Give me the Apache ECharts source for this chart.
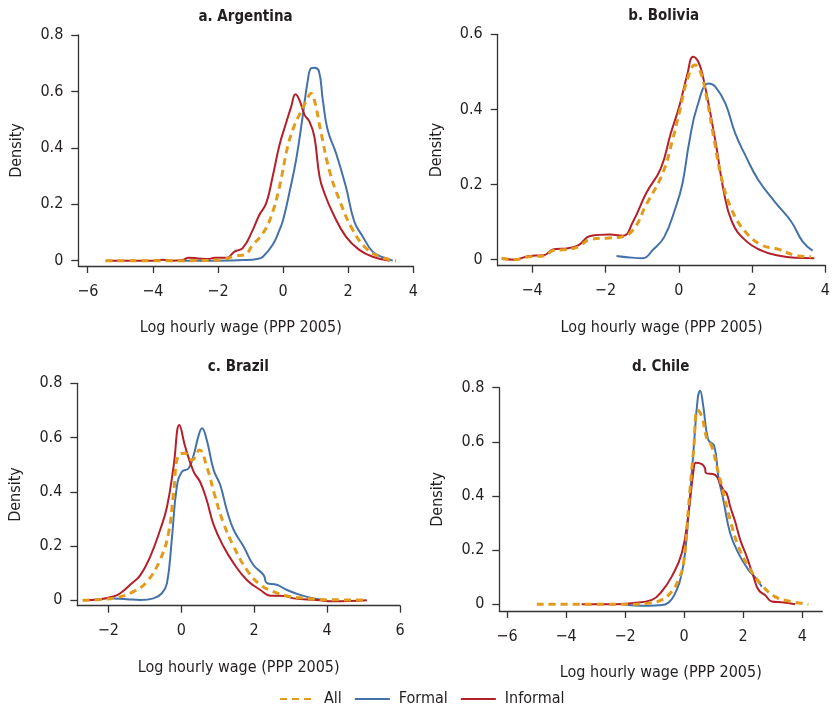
<!DOCTYPE html>
<html>
<head>
<meta charset="utf-8">
<script src="https://cdn.jsdelivr.net/npm/echarts@6/dist/echarts.min.js"></script>
<style>
html,body{margin:0;padding:0;background:#fff;}
#chart{width:833px;height:707px;}
</style>
</head>
<body>
<div id="chart"></div>
<script>
// ---- Data (x = log hourly wage, y = density) ----
const panelTitles = ['a. Argentina', 'b. Bolivia', 'c. Brazil', 'd. Chile'];
const seriesNames = ['All', 'Formal', 'Informal'];
const xTicksA = [-6, -4, -2, 0, 2, 4];
const xTicksB = [-4, -2, 0, 2, 4];
const xTicksC = [-2, 0, 2, 4, 6];
const xTicksD = [-6, -4, -2, 0, 2, 4];
const yTicksA = [0, 0.2, 0.4, 0.6, 0.8];
const yTicksB = [0, 0.2, 0.4, 0.6];
const yTicksC = [0, 0.2, 0.4, 0.6, 0.8];
const yTicksD = [0, 0.2, 0.4, 0.6, 0.8];

const argentinaAll = [[-5.45,0],[-3,0],[-2,0.002],[-1.7,0.008],[-1.5,0.017],[-1.2,0.02],[-0.93,0.056],[-0.62,0.097],[-0.37,0.156],[-0.11,0.262],[0.14,0.404],[0.35,0.48],[0.5,0.517],[0.71,0.565],[0.86,0.593],[0.96,0.57],[1.17,0.452],[1.42,0.321],[1.73,0.215],[2.14,0.109],[2.55,0.044],[2.96,0.014],[3.47,0]];
const argentinaFormal = [[-3.13,0],[-2,0],[-1.2,0.002],[-0.8,0.006],[-0.62,0.014],[-0.32,0.056],[-0.11,0.109],[0,0.144],[0.19,0.239],[0.4,0.357],[0.6,0.51],[0.76,0.64],[0.86,0.682],[0.96,0.684],[1.1,0.672],[1.22,0.57],[1.37,0.463],[1.63,0.38],[1.93,0.262],[2.19,0.138],[2.45,0.085],[2.75,0.032],[3.06,0.012],[3.37,0]];
const argentinaInformal = [[-5.45,0],[-4,0],[-3.7,0.003],[-3.4,0],[-3.1,0.002],[-2.9,0.01],[-2.6,0.008],[-2.3,0.006],[-2.1,0.01],[-1.75,0.01],[-1.65,0.014],[-1.49,0.032],[-1.24,0.044],[-0.93,0.109],[-0.73,0.162],[-0.52,0.203],[-0.32,0.298],[-0.11,0.41],[0.09,0.487],[0.25,0.546],[0.38,0.59],[0.5,0.57],[0.66,0.517],[0.81,0.493],[0.96,0.44],[1.12,0.298],[1.27,0.239],[1.53,0.168],[1.93,0.085],[2.34,0.038],[2.75,0.014],[3.27,0]];

const boliviaAll = [[-4.83,0.004],[-4.49,0],[-4.08,0.008],[-3.68,0.01],[-3.41,0.025],[-3.05,0.027],[-2.73,0.035],[-2.42,0.054],[-1.9,0.058],[-1.6,0.06],[-1.25,0.079],[-0.89,0.146],[-0.44,0.23],[-0.17,0.319],[0.01,0.39],[0.23,0.478],[0.44,0.518],[0.59,0.5],[0.77,0.426],[0.95,0.327],[1.18,0.212],[1.45,0.132],[1.81,0.075],[2.26,0.039],[2.71,0.028],[3.16,0.012],[3.61,0.008]];
const boliviaFormal = [[-1.7,0.01],[-1.34,0.006],[-0.98,0.004],[-0.71,0.026],[-0.4,0.06],[-0.08,0.141],[0.1,0.203],[0.28,0.31],[0.5,0.407],[0.82,0.469],[1.0,0.46],[1.27,0.416],[1.54,0.336],[1.81,0.279],[2.17,0.212],[2.62,0.154],[3.07,0.101],[3.38,0.048],[3.65,0.024]];
const boliviaInformal = [[-4.83,0.004],[-4.49,0],[-4.08,0.01],[-3.68,0.012],[-3.41,0.028],[-3.05,0.03],[-2.73,0.039],[-2.42,0.063],[-1.88,0.067],[-1.52,0.064],[-1.25,0.101],[-0.89,0.177],[-0.49,0.243],[-0.22,0.336],[0.01,0.407],[0.23,0.492],[0.39,0.54],[0.55,0.523],[0.68,0.478],[0.86,0.39],[1.04,0.292],[1.22,0.185],[1.45,0.101],[1.81,0.052],[2.26,0.024],[2.71,0.011],[3.16,0.005],[3.7,0.004]];

const brazilAll = [[-2.7,0],[-2.22,0.003],[-1.76,0.01],[-1.31,0.032],[-0.94,0.069],[-0.58,0.149],[-0.35,0.247],[-0.21,0.394],[-0.07,0.536],[0.11,0.542],[0.29,0.517],[0.5,0.554],[0.7,0.493],[0.93,0.382],[1.16,0.284],[1.44,0.198],[1.8,0.112],[2.17,0.057],[2.53,0.032],[2.9,0.016],[3.45,0.007],[3.99,0.002],[5.09,0.001]];
const brazilFormal = [[-1.86,0.007],[-1.49,0.004],[-1.12,0.001],[-0.76,0.007],[-0.53,0.026],[-0.39,0.063],[-0.26,0.222],[-0.12,0.419],[0.02,0.474],[0.2,0.486],[0.34,0.535],[0.48,0.609],[0.57,0.634],[0.7,0.591],[0.89,0.48],[1.07,0.425],[1.25,0.333],[1.44,0.259],[1.71,0.198],[1.98,0.13],[2.26,0.093],[2.35,0.063],[2.62,0.057],[2.9,0.038],[3.26,0.02],[3.63,0.007],[3.99,0]];
const brazilInformal = [[-2.7,0],[-2.22,0.004],[-1.86,0.014],[-1.67,0.026],[-1.4,0.057],[-1.12,0.093],[-0.85,0.161],[-0.58,0.259],[-0.39,0.345],[-0.21,0.493],[-0.05,0.646],[0.11,0.566],[0.34,0.474],[0.52,0.436],[0.7,0.369],[0.89,0.278],[1.16,0.198],[1.44,0.136],[1.8,0.075],[2.17,0.038],[2.44,0.017],[2.81,0.016],[3.08,0.007],[3.72,0.001],[4.18,-0.004],[5.09,0]];

const chileAll = [[-4.99,0],[-2,0],[-1.21,0.004],[-0.76,0.016],[-0.42,0.047],[-0.19,0.09],[-0.02,0.151],[0.15,0.361],[0.32,0.57],[0.46,0.718],[0.6,0.693],[0.77,0.613],[0.94,0.582],[1.11,0.508],[1.28,0.434],[1.56,0.311],[1.84,0.213],[2.18,0.139],[2.63,0.071],[3.08,0.028],[3.53,0.012],[4.21,0]];
const chileFormal = [[-2,-0.002],[-1.43,-0.006],[-0.87,-0.004],[-0.53,0.006],[-0.25,0.053],[-0.08,0.114],[0.03,0.188],[0.15,0.336],[0.32,0.57],[0.46,0.76],[0.54,0.789],[0.65,0.73],[0.82,0.607],[1.02,0.585],[1.16,0.471],[1.33,0.385],[1.56,0.262],[1.84,0.188],[2.18,0.127],[2.4,0.1],[2.63,0.065]];
const chileInformal = [[-3.47,0],[-2.34,0],[-1.77,0.004],[-1.09,0.016],[-0.76,0.047],[-0.42,0.102],[-0.08,0.188],[0.15,0.336],[0.32,0.496],[0.4,0.523],[0.6,0.518],[0.71,0.502],[0.73,0.486],[1.05,0.478],[1.22,0.446],[1.33,0.422],[1.44,0.41],[1.56,0.361],[1.73,0.305],[1.9,0.238],[2.12,0.176],[2.35,0.102],[2.52,0.053],[2.74,0.034],[2.97,0.01],[3.31,0.007],[3.76,0]];

// ---- Layout / style ----
const FONT = '"DejaVu Sans Condensed", "Liberation Sans Narrow", sans-serif';
const FS = 16;
const TXT = '#231f20';
const AXC = '#333333';
const C_ALL = '#e39b1b', C_FORMAL = '#4472a8', C_INFORMAL = '#b3202a';

const panels = [
  {grid:{left:78.3, top:35, width:335, height:231}, xmin:-6.29, xmax:4, ymin:-0.019, ymax:0.8, xt:xTicksA, yt:yTicksA, data:[argentinaAll, argentinaFormal, argentinaInformal], tx:245.5, ty:17.5, namePad:[0,10,0,0]},
  {grid:{left:497.7, top:34.3, width:331.6, height:231.4}, xmin:-4.94, xmax:4, ymin:-0.016, ymax:0.6, xt:xTicksB, yt:yTicksB, data:[boliviaAll, boliviaFormal, boliviaInformal], tx:663.7, ty:16.5, namePad:[0,0,0,0]},
  {grid:{left:77.3, top:383.3, width:322.7, height:222.4}, xmin:-2.85, xmax:6, ymin:-0.02, ymax:0.8, xt:xTicksC, yt:yTicksC, data:[brazilAll, brazilFormal, brazilInformal], tx:238.3, ty:367, namePad:[0,0,0,0]},
  {grid:{left:499.3, top:387.7, width:323, height:223.3}, xmin:-6.26, xmax:4.68, ymin:-0.025, ymax:0.8, xt:xTicksD, yt:yTicksD, data:[chileAll, chileFormal, chileInformal], tx:660.7, ty:367, namePad:[0,0,0,0]}
];

const fmtX = v => (v < 0 ? '\u2212' + Math.abs(v) : String(v));
const fmtY = v => (v === 0 ? '0' : v.toFixed(1));

const grids = [], xAxes = [], yAxes = [], series = [], graphics = [];
panels.forEach((p, i) => {
  grids.push(Object.assign({containLabel:false}, p.grid));
  xAxes.push({
    type:'value', gridIndex:i, min:p.xmin, max:p.xmax,
    name:'Log hourly wage (PPP 2005)', nameLocation:'middle', nameGap:54,
    nameTextStyle:{fontFamily:FONT, fontSize:FS, color:TXT, padding:p.namePad},
    axisLine:{show:true, onZero:false, lineStyle:{color:AXC, width:1.3}},
    axisTick:{show:true, length:7, customValues:p.xt, lineStyle:{color:AXC, width:1.3}},
    axisLabel:{customValues:p.xt, formatter:fmtX, margin:17.5, fontFamily:FONT, fontSize:FS, color:TXT},
    splitLine:{show:false}
  });
  yAxes.push({
    type:'value', gridIndex:i, min:p.ymin, max:p.ymax,
    name:'Density', nameLocation:'middle', nameGap:53, nameRotate:90,
    nameTextStyle:{fontFamily:FONT, fontSize:FS, color:TXT},
    axisLine:{show:true, onZero:false, lineStyle:{color:AXC, width:1.3}},
    axisTick:{show:true, length:7, customValues:p.yt, lineStyle:{color:AXC, width:1.3}},
    axisLabel:{customValues:p.yt, formatter:fmtY, margin:15, fontFamily:FONT, fontSize:FS, color:TXT},
    splitLine:{show:false}
  });
  const styles = [
    {name:'Formal', d:p.data[1], color:C_FORMAL, width:2, type:'solid'},
    {name:'Informal', d:p.data[2], color:C_INFORMAL, width:2, type:'solid'},
    {name:'All', d:p.data[0], color:C_ALL, width:3, type:[7,5]}
  ];
  styles.forEach(s => {
    series.push({
      type:'line', name:s.name, xAxisIndex:i, yAxisIndex:i, data:s.d,
      showSymbol:false, symbol:'none', smooth:0.45,
      lineStyle:{color:s.color, width:s.width, type:s.type},
      itemStyle:{color:s.color}, animation:false
    });
  });
  graphics.push({type:'text', x:p.tx, y:p.ty, style:{text:panelTitles[i], fontFamily:FONT, fontSize:15, fontWeight:'bold', fill:TXT, textAlign:'center', textVerticalAlign:'middle'}});
});

const chart = echarts.init(document.getElementById('chart'), null, {renderer:'canvas'});
chart.setOption({
  backgroundColor:'#ffffff',
  animation:false,
  grid:grids, xAxis:xAxes, yAxis:yAxes, series:series,
  graphic:graphics,
  legend:{
    data:seriesNames, left:274, top:686, itemWidth:35, itemHeight:14, itemGap:12,
    itemStyle:{opacity:0, borderWidth:0},
    textStyle:{fontFamily:FONT, fontSize:FS, color:TXT, padding:[0,0,0,4]},
    selectedMode:false
  }
});
</script>
</body>
</html>
